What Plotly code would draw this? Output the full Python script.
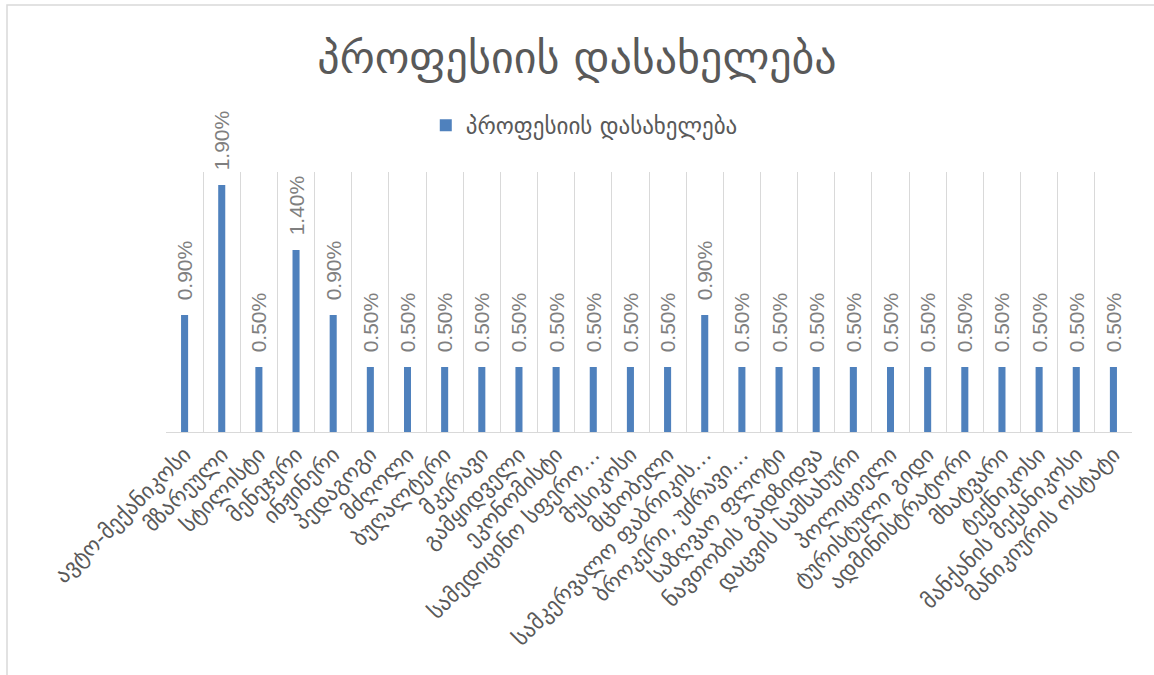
import plotly.graph_objects as go

categories = [
    "ავტო-მექანიკოსი", "მზარეული", "სტილისტი", "მენეჯერი", "ინჟინერი",
    "პედაგოგი", "მძღოლი", "ბუღალტერი", "მკერავი", "გამყიდველი",
    "ეკონომისტი", "სამედიცინო სფერო…", "მუსიკოსი", "მცხობელი",
    "სამკერვალო ფაბრიკის…", "ბროკერი, უძრავი…", "საზღვაო ფლოტი",
    "ნავთობის გადზიდვა", "დაცვის სამსახური", "პოლიციელი", "ტურისტული გიდი",
    "ადმინისტრატორი", "მხატვარი", "ტექნიკოსი", "მანქანის მექანიკოსი",
    "მანიკიურის ოსტატი",
]
values = [
    0.009, 0.019, 0.005, 0.014, 0.009,
    0.005, 0.005, 0.005, 0.005, 0.005,
    0.005, 0.005, 0.005, 0.005,
    0.009, 0.005, 0.005,
    0.005, 0.005, 0.005, 0.005,
    0.005, 0.005, 0.005, 0.005,
    0.005,
]
series_name = "პროფესიის დასახელება"
title_text = "პროფესიის დასახელება"

font_family = "DejaVu Sans, Noto Sans, sans-serif"

fig = go.Figure()
fig.add_trace(go.Bar(
    x=categories,
    y=values,
    name=series_name,
    marker=dict(color="#4F81BD", line=dict(width=0)),
    width=0.19,
    texttemplate="\u00a0\u00a0%{y:.2%}",
    textposition="outside",
    textangle=-90,
    constraintext="none",
    textfont=dict(size=21, color="#7F7F7F", family="Liberation Sans, Arial, sans-serif"),
    cliponaxis=False,
    showlegend=True,
))

fig.update_layout(
    width=1154,
    height=675,
    paper_bgcolor="white",
    plot_bgcolor="white",
    margin=dict(l=166, r=22, t=172, b=243),
    title=dict(
        text=title_text,
        x=0.5, xanchor="center",
        y=0.914, yanchor="middle",
        font=dict(size=44, color="#595959", family=font_family),
    ),
    legend=dict(
        orientation="h",
        x=0.433, xanchor="center",
        y=1.18, yanchor="middle",
        font=dict(size=23, color="#595959", family=font_family),
        bgcolor="rgba(0,0,0,0)",
        itemwidth=30,
    ),
    xaxis=dict(
        type="category",
        tickson="boundaries",
        showgrid=True,
        gridcolor="#D9D9D9",
        gridwidth=1,
        showline=True,
        linecolor="#D9D9D9",
        linewidth=1,
        ticks="",
        tickangle=-45,
        tickfont=dict(size=22, color="#595959", family=font_family),
        automargin=False,
    ),
    yaxis=dict(
        range=[0, 0.02],
        showgrid=False,
        showticklabels=False,
        zeroline=False,
        showline=False,
        ticks="",
    ),
    shapes=[dict(
        type="rect",
        xref="paper", yref="paper",
        x0=(7 - 166) / 966, x1=1.2,
        y0=-1.5, y1=(432 - 5) / 260,
        line=dict(color="#D9D9D9", width=1.5),
        fillcolor="rgba(0,0,0,0)",
        layer="below",
    )],
)

fig.write_html(
    "out.html",
    config={"displayModeBar": False},
    post_script="document.body.style.margin='0';",
)
